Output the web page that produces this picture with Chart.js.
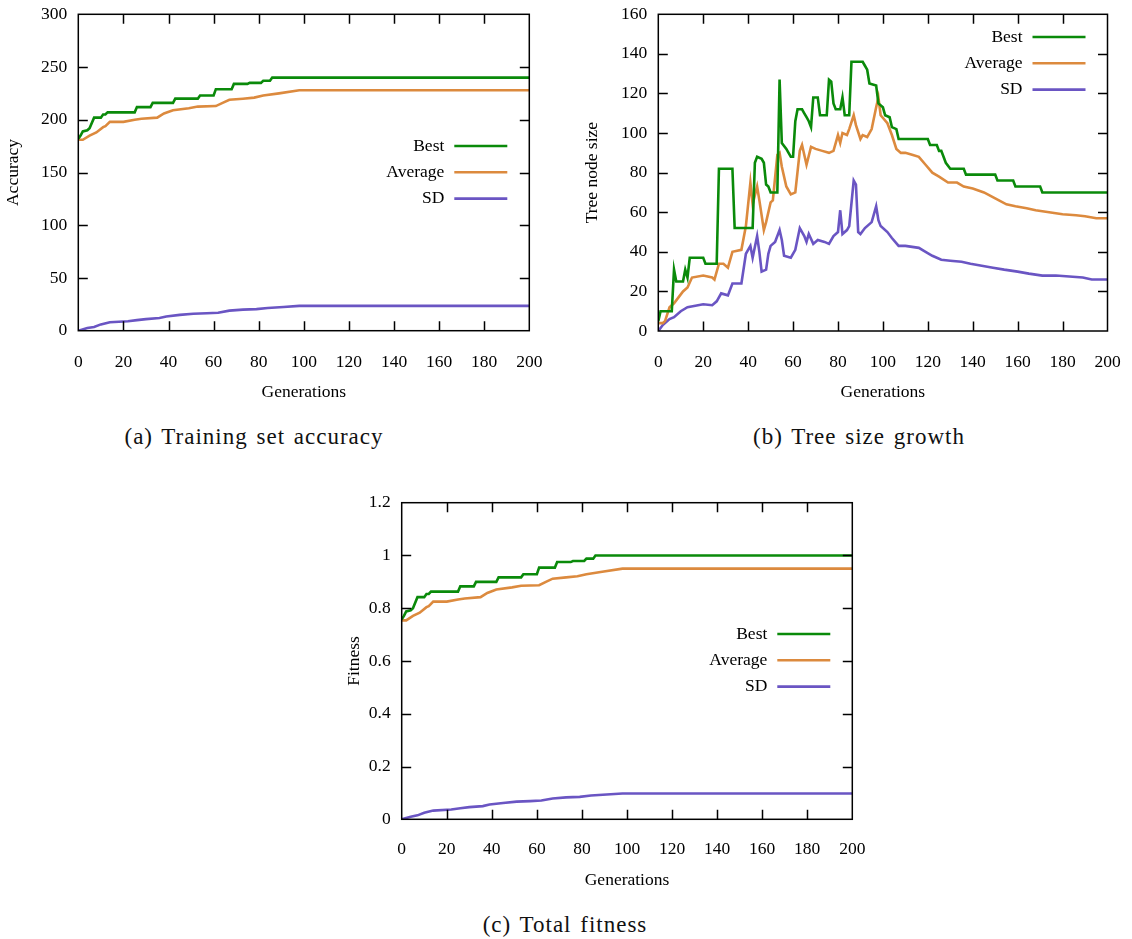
<!DOCTYPE html>
<html>
<head>
<meta charset="utf-8">
<script src="https://cdn.jsdelivr.net/npm/chart.js@4.4.0/dist/chart.umd.min.js"></script>
<style>
  html, body { margin: 0; padding: 0; background: #fff; }
  #page { position: relative; width: 1132px; height: 939px; overflow: hidden; background: #fff; }
  canvas { position: absolute; }
  .caption {
    position: absolute; transform: translate(-50%, -50%);
    font-family: 'Liberation Serif', serif; font-size: 23px;
    letter-spacing: 1px; word-spacing: 2px;
    color: #111; white-space: nowrap;
  }
</style>
</head>
<body>
<div id="page">
  <canvas id="accChart" width="560" height="410" style="left:0px;top:0px"></canvas>
  <canvas id="treeChart" width="562" height="410" style="left:570px;top:0px"></canvas>
  <canvas id="fitChart" width="560" height="410" style="left:330px;top:490px"></canvas>
  <div class="caption" style="left:254px;top:437px">(a) Training set accuracy</div>
  <div class="caption" style="left:859px;top:437px">(b) Tree size growth</div>
  <div class="caption" style="left:565px;top:925px">(c) Total fitness</div>
</div>
<script>
// ---- run statistics per generation (0..200)

// training set accuracy
const accBestGen = [0,1,2,4,5,7,10,11,12,13,25,26,32,33,42,43,53,54,60,61,68,69,75,76,81,82,85,86,200]
const accBest = [182,185,189,190,192,202,202,205,205,207,207,212,212,216,216,220,220,223,223,229,229,234,234,235,235,237,237,240,240]
const accAvgGen = [0,2,5,8,11,12,14,20,25,28,35,38,42,49,53,61,64,67,73,78,82,89,98,200]
const accAvg = [181,181,185,188,193,194,198,198,200,201,202,206,209,211,212.5,213,216,219,220,221,223,225,228,228]
const accSdGen = [0,4,7,10,14,22,26,30,36,39,45,51,57,62,67,73,79,84,91,98,200]
const accSd = [0,2.5,3.5,6,8,9,10,11,12,13.5,15,16,16.5,17,19,20,20.5,21.5,22.5,23.5,23.5]

// tree node size
const treeBestGen = [0,1,6,7,8,11,12,13,14,20,21,26,27,33,34,42,43,44,46,47,48,49,50,53,54,55,57,58,59,60,61,62,64,65,66,67,68,69,71,72,75,76,77,78,79,81,82,83,85,86,91,92,93,94,97,98,100,101,103,104,106,107,120,121,124,125,126,127,128,130,136,137,150,151,158,159,170,171,200]
const treeBest = [5,10,10,31,25,25,31,27,37,37,34,34,82,82,52,52,85,88,87,85,74,73,70,70,127,95,92,90,88,88,106,112,112,110,108,106,103,118,118,109,109,127,126,115,112,112,118,109,109,136,136,134,132,125,124,115,113,109,108,103,102,97,97,94,94,91,91,88,85,82,82,79,79,76,76,73,73,70,70]
const treeAvgGen = [0,2,3,5,7,9,11,13,15,20,24,25,27,29,31,33,37,39,41,42,44,45,47,48,50,51,53,54,55,57,59,61,63,64,66,68,70,73,76,78,80,81,82,84,85,87,88,90,91,93,95,97,98,99,102,104,106,108,110,113,116,119,122,125,129,133,136,140,145,150,155,159,164,168,174,180,186,190,195,200]
const treeAvg = [4,4,5,12,14,17,20,22,27,28,27,26,34,34,32,40,41,53,75,64,73,66,51,55,65,66,89,90,83,73,69,70,91,94,84,93,92,91,90,91,99,95,100,99,102,109,104,97,99,98,102,113,118,109,105,99,92,90,90,89,88,84,80,78,75,75,73,72,70,67,64,63,62,61,60,59,58.5,58,57,57]
const treeSdGen = [0,2,5,7,10,13,20,24,26,28,31,33,37,39,41,42,44,45,46,48,49,50,52,54,55,56,59,61,63,65,66,67,69,71,74,76,78,80,81,82,84,85,87,88,89,90,92,95,97,98,99,102,104,107,110,116,119,122,126,130,135,139,144,149,154,160,165,171,177,183,189,193,200]
const treeSd = [0,3,6,7,10,12,13.5,13,15,19,18,24,24,39,43,37,48,40,30,31,39,43,45,51,46,38,37,41,52,48,45,49,44,46,45,44,48,50,61,49,51,53,76,74,50,49,52,55,63,56,53,50,47,43,43,42,40,38,36,35.5,35,34,33,32,31,30,29,28,28,27.5,27,26,26]

// total fitness (same generations as accuracy)
const fitBest = [0.758,0.771,0.788,0.792,0.8,0.842,0.842,0.854,0.854,0.863,0.863,0.883,0.883,0.9,0.9,0.917,0.917,0.929,0.929,0.954,0.954,0.975,0.975,0.979,0.979,0.988,0.988,1,1]
const fitAvg = [0.754,0.754,0.771,0.783,0.804,0.808,0.825,0.825,0.833,0.837,0.842,0.858,0.871,0.879,0.885,0.887,0.9,0.912,0.917,0.921,0.929,0.938,0.95,0.95]
const fitSd = [0,0.01,0.015,0.025,0.033,0.037,0.042,0.046,0.05,0.056,0.062,0.067,0.069,0.071,0.079,0.083,0.085,0.09,0.094,0.098,0.098]

const seriesNames = ['Best', 'Average', 'SD']
const seriesColors = ['#0a8a0a', '#dc8a3e', '#6a55c3']

const tickFont = { family: 'Liberation Serif', size: 17.5 }

// =========================== plugins
// gnuplot style frame: border plus inward ticks on all four sides
const frame = {
    id: 'frame',
    afterDraw(chart){
        const ctx = chart.ctx
        const a = chart.chartArea
        const x = chart.scales.x
        const y = chart.scales.y
        const len = 9.5
        ctx.save()
        ctx.strokeStyle = '#000'
        ctx.lineWidth = 1.5
        ctx.beginPath()
        x.ticks.forEach(t => {
            if(t.value <= x.min || t.value >= x.max) return
            const px = Math.round(x.getPixelForValue(t.value)) + 0.5
            ctx.moveTo(px, a.bottom); ctx.lineTo(px, a.bottom - len)
            ctx.moveTo(px, a.top); ctx.lineTo(px, a.top + len)
        })
        y.ticks.forEach(t => {
            if(t.value <= y.min + 1e-9 || t.value >= y.max - 1e-9) return
            const py = Math.round(y.getPixelForValue(t.value)) + 0.5
            ctx.moveTo(a.left, py); ctx.lineTo(a.left + len, py)
            ctx.moveTo(a.right, py); ctx.lineTo(a.right - len, py)
        })
        ctx.stroke()
        ctx.strokeRect(a.left, a.top, a.right - a.left, a.bottom - a.top)
        ctx.restore()
    }
}

// key: label right aligned, line sample to its right
const key = {
    id: 'key',
    afterDraw(chart, args, opts){
        const ctx = chart.ctx
        const a = chart.chartArea
        const lineEnd = a.right - 22
        const lineStart = lineEnd - 53
        ctx.save()
        ctx.font = '17.5px "Liberation Serif"'
        ctx.textAlign = 'right'
        ctx.textBaseline = 'middle'
        chart.data.datasets.forEach((ds, i) => {
            const yy = a.top + opts.top + i * 26.3
            ctx.fillStyle = '#000'
            ctx.fillText(ds.label, lineStart - 10, yy)
            ctx.strokeStyle = ds.borderColor
            ctx.lineWidth = ds.borderWidth
            ctx.beginPath()
            ctx.moveTo(lineStart, yy)
            ctx.lineTo(lineEnd, yy)
            ctx.stroke()
        })
        ctx.restore()
    }
}

// =========================== charts
function series(gens, vals){
    return gens.map((g, i) => ({ x: g, y: vals[i] }))
}

function panel(id, cfg){
    const cnv = document.getElementById(id)
    const datasets = cfg.data.map((d, i) => ({
        label: seriesNames[i],
        data: d,
        borderColor: seriesColors[i],
        borderWidth: 2.6,
        pointRadius: 0,
        tension: 0,
        fill: false
    }))
    return new Chart(cnv, {
        type: 'line',
        data: { datasets: datasets },
        options: {
            responsive: false,
            animation: false,
            devicePixelRatio: 1,
            layout: { padding: { top: cfg.top, right: cfg.right, left: 0, bottom: 0 } },
            plugins: {
                legend: { display: false },
                tooltip: { enabled: false },
                key: { top: cfg.keyTop }
            },
            scales: {
                x: {
                    type: 'linear',
                    min: 0, max: 200,
                    ticks: { stepSize: 20, padding: cfg.xTickPad, font: tickFont, color: '#000', maxRotation: 0, autoSkip: false },
                    grid: { display: false, drawTicks: false },
                    border: { display: false },
                    title: { display: true, text: 'Generations', font: tickFont, color: '#000', padding: { top: 0, bottom: cfg.xTitlePad } },
                    afterFit: s => {
                        s.height = cfg.bottom
                        s.paddingLeft = 0
                        s.paddingRight = 0
                    }
                },
                y: {
                    type: 'linear',
                    min: cfg.yMin, max: cfg.yMax,
                    ticks: {
                        stepSize: cfg.yStep, padding: 11, font: tickFont, color: '#000',
                        callback: v => String(Math.round(v * 10) / 10)
                    },
                    grid: { display: false, drawTicks: false },
                    border: { display: false },
                    title: { display: true, text: cfg.yTitle, font: tickFont, color: '#000', padding: { top: cfg.yTitlePad, bottom: 0 } },
                    afterFit: s => {
                        s.width = cfg.left
                        s.paddingTop = 0
                        s.paddingBottom = 0
                    }
                }
            }
        },
        plugins: [frame, key]
    })
}

panel('accChart', {
    data: [series(accBestGen, accBest), series(accAvgGen, accAvg), series(accSdGen, accSd)],
    yMin: 0, yMax: 300, yStep: 50, yTitle: 'Accuracy',
    left: 78.3, top: 14.3, right: 30.7, bottom: 79.3,
    xTickPad: 21, xTitlePad: 7, yTitlePad: 3.3, keyTop: 131.7
})

panel('treeChart', {
    data: [series(treeBestGen, treeBest), series(treeAvgGen, treeAvg), series(treeSdGen, treeSd)],
    yMin: 0, yMax: 160, yStep: 20, yTitle: 'Tree node size',
    left: 88.3, top: 14.3, right: 24.5, bottom: 79,
    xTickPad: 21, xTitlePad: 7, yTitlePad: 11.8, keyTop: 22.7
})

panel('fitChart', {
    data: [series(accBestGen, fitBest), series(accAvgGen, fitAvg), series(accSdGen, fitSd)],
    yMin: 0, yMax: 1.2, yStep: 0.2, yTitle: 'Fitness',
    left: 71.7, top: 12.7, right: 37.7, bottom: 80.7,
    xTickPad: 20, xTitlePad: 9, yTitlePad: 13.8, keyTop: 131.3
})
</script>
</body>
</html>
